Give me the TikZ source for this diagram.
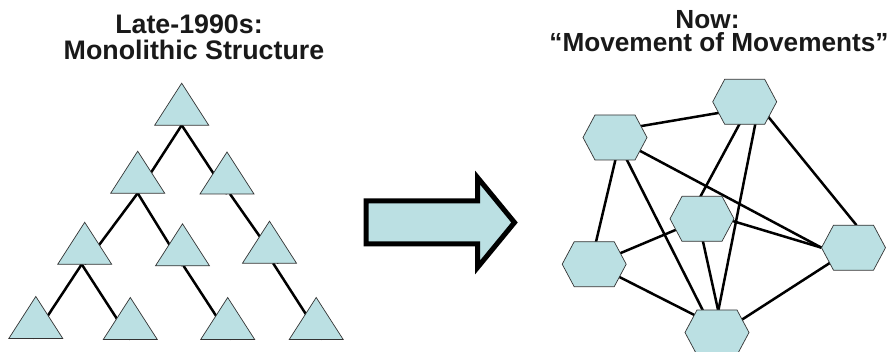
\documentclass[tikz,border=0pt]{standalone}
\usepackage{fontspec}
\setmainfont{Liberation Sans}
\usetikzlibrary{calc}
\definecolor{pfill}{HTML}{BBE0E3}
\definecolor{pline}{HTML}{333333}
\begin{document}
\begin{tikzpicture}[x=1pt,y=-1pt,
  trinode/.style={inner sep=0pt, outer sep=0pt, minimum width=54pt, minimum height=42pt},
  hexnode/.style={inner sep=0pt, outer sep=0pt, minimum width=64pt, minimum height=45pt},
  shapefill/.style={fill=pfill, draw=pline, line width=0.7pt, line join=miter},
  link/.style={line width=2.5pt, black},
  titleL/.style={font=\bfseries\fontsize{26.8}{25}\selectfont, anchor=base, inner sep=0pt, text=black!90},
  titleR/.style={font=\bfseries\fontsize{26.2}{23.4}\selectfont, align=center, anchor=base, inner sep=0pt, text=black!90}
]
\useasboundingbox (0,0) rectangle (889,352);

% titles
\node[titleL] (tl1) at (189,34) {Late-1990s:};
\node[titleL] (tl2) at (194,59.3) {Monolithic Structure};
\node[titleR] (tr) at (719,51.7) {Now:\hspace*{23pt}\\“Movement of Movements”};

% tree nodes (placeholders for triangles)
\node[trinode] (t1)  at (181.7,104.2) {};
\node[trinode] (t2a) at (137.7,172.2) {};
\node[trinode] (t2b) at (227.0,173.0) {};
\node[trinode] (t3a) at (84.7,243.3) {};
\node[trinode] (t3b) at (182.5,244.8) {};
\node[trinode] (t3c) at (269.5,242.2) {};
\node[trinode] (t4a) at (35.8,317.5) {};
\node[trinode] (t4b) at (130.3,318.5) {};
\node[trinode] (t4c) at (227.7,318.5) {};
\node[trinode] (t4d) at (316.2,318.5) {};

% tree links
\draw[link] (t1.south) -- (t2a.south);
\draw[link] (t1.south) -- (t2b.south);
\draw[link] (t2a.south) -- (t3a.south);
\draw[link] (t2a.south) -- (t3b.south);
\draw[link] ($(t2b.south)+(3,0)$) -- ($(t3c.south)+(9,0)$);
\draw[link] ($(t3a.south)+(-3,0)$) -- ($(t4a.south)+(-3,0)$);
\draw[link] ($(t3a.south)+(-3,0)$) -- (t4b.south);
\draw[link] ($(t3b.south)+(1,0)$) -- ($(t4c.south)+(3.8,0)$);
\draw[link] ($(t3c.south)+(3.6,0)$) -- ($(t4d.south)+(6,0)$);

\foreach \n in {t1,t2a,t2b,t3a,t3b,t3c,t4a,t4b,t4c,t4d}
  \draw[shapefill] (\n.south west) -- (\n.north) -- (\n.south east) -- cycle;

% big arrow
\draw[line width=5pt, fill=pfill, line join=miter, miter limit=10]
  (366,201) -- (477.5,201) -- (477.5,177.5) -- (514.5,222.5) -- (477.5,267.5)
  -- (477.5,244) -- (366,244) -- cycle;

% network nodes (placeholders for hexagons)
\node[hexnode] (ht)  at (744.7,101.8) {};
\node[hexnode] (hul) at (615.0,137.5) {};
\node[hexnode] (hc)  at (702.0,218.8) {};
\node[hexnode] (hr)  at (853.5,247.7) {};
\node[hexnode] (hl)  at (594.2,264.2) {};
\node[hexnode] (hb)  at (717.0,332.5) {};

% network links
\draw[link] ($(hul)+(0,-7)$) -- ($(ht)+(0,6.7)$);
\draw[link] ($(hul)+(5.7,0)$) -- ($(hl)+(-3.5,0)$);
\draw[link] ($(hul)+(0.6,0)$) -- ($(hb)+(-3,0)$);
\draw[link] (hul.center) -- (hr.west);
\draw[link] ($(ht)+(6.8,0)$) -- ($(hc)+(-13.6,0)$);
\draw[link] ($(ht)+(15,0)$) -- ($(hb)+(-3,0)$);
\draw[link] ($(ht)+(11.4,0)$) -- ($(hr.north)+(3,0)$);
\draw[link] ($(hc)+(0,-7)$) -- (hr.west);
\draw[link] (hc.center) -- (hl.center);
\draw[link] ($(hc)+(-4,0)$) -- ($(hb)+(6,0)$);
\draw[link] (hl.center) -- ($(hb)+(0,-6)$);
\draw[link] ($(hb)+(5,0)$) -- (hr.center);

\foreach \n in {ht,hul,hc,hr,hl,hb}
  \draw[shapefill] (\n.west) -- ($(\n.north west)+(12,0)$) -- ($(\n.north east)+(-12,0)$)
    -- (\n.east) -- ($(\n.south east)+(-12,0)$) -- ($(\n.south west)+(12,0)$) -- cycle;
\end{tikzpicture}
\end{document}
